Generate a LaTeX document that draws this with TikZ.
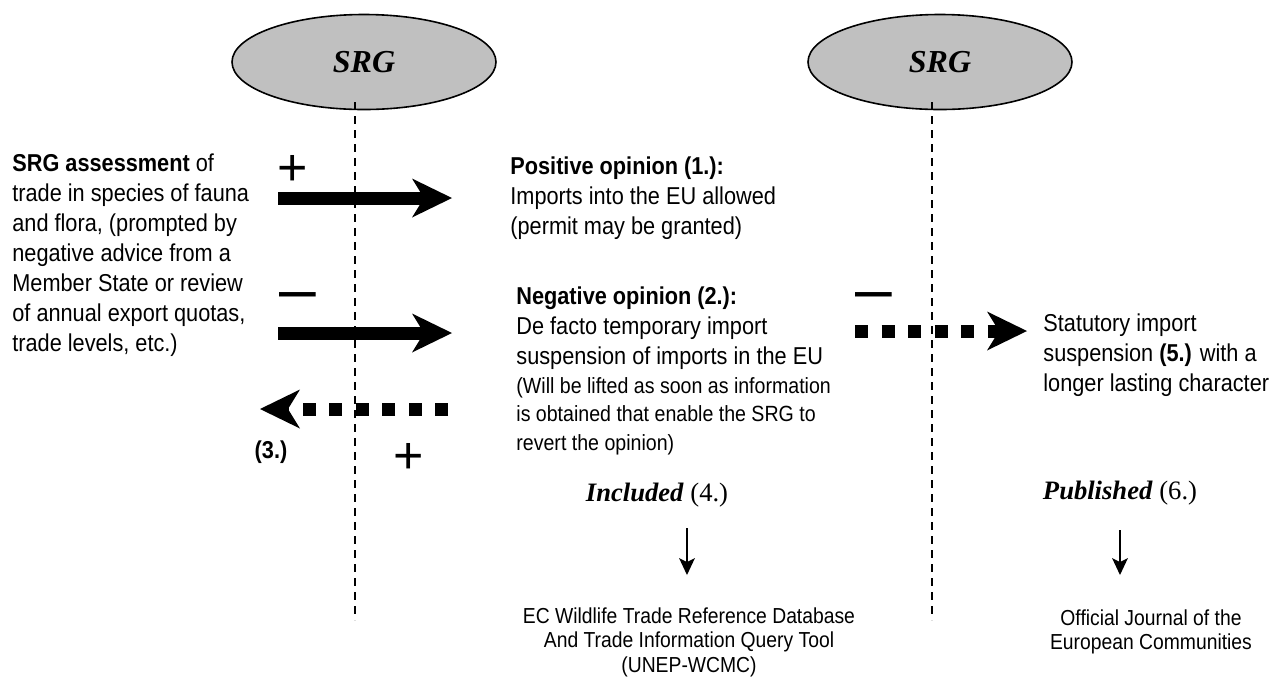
\documentclass[tikz,border=0pt]{standalone}
\usepackage{fontspec}
\setmainfont{Liberation Serif}
\newfontfamily\arialfont[FakeStretch=0.89]{Liberation Sans}
\newfontfamily\signfont{Liberation Sans}
\usepackage{xcolor}
\usetikzlibrary{shapes.geometric, arrows.meta}
\definecolor{srggray}{HTML}{C0C0C0}
\tikzset{
  srg/.style={ellipse, draw, line width=0.8pt, fill=srggray, minimum width=132pt,
              minimum height=47.5pt, inner sep=0pt, font=\fontsize{16}{18}\selectfont\bfseries\itshape},
  txt/.style={anchor=north west, inner sep=0pt, align=left, font=\arialfont\fontsize{12.2}{15}\selectfont},
  smalltxt/.style={txt, font=\arialfont\fontsize{11}{14.25}\selectfont},
  src/.style={anchor=north, inner sep=0pt, align=center, font=\arialfont\fontsize{10.85}{12.25}\selectfont},
  ttl/.style={inner sep=0pt, font=\fontsize{13.3}{15}\selectfont},
  sign/.style={anchor=base, inner sep=0pt, font=\signfont\fontsize{26}{26}\selectfont},
  minus/.style={sign, font=\signfont\fontsize{33}{33}\selectfont},
  vline/.style={line width=0.65pt, dash pattern=on 4pt off 3pt},
  big/.style={-{Stealth[length=20pt, width=19.5pt, inset=6pt, line width=0pt]}, line width=6.5pt},
  dotarr/.style={big, dash pattern=on 6.5pt off 6.75pt},
  pub/.style={-{Stealth[length=8.5pt, width=8pt, inset=2pt, line width=0pt]}, line width=0.65pt}
}
\begin{document}
\begin{tikzpicture}[x=0.5pt, y=-0.5pt]
  \useasboundingbox (0,0) rectangle (1287,682);
  % the two SRG meetings and their time lines
  \node[srg] (srgA) at (364,62) {SRG};
  \node[srg] (srgB) at (940,62) {SRG};
  \coordinate (topA) at (355,102); \coordinate (botA) at (355,620);
  \coordinate (topB) at (932,102); \coordinate (botB) at (932,620);
  \draw[vline] (topA) -- (botA);
  \draw[vline] (topB) -- (botB);
  % texts
  \node[txt] (assess) at (12,153) {\textbf{SRG assessment} of\\trade in species of fauna\\and flora, (prompted by\\negative advice from a\\Member State or review\\of annual export quotas,\\trade levels, etc.)};
  \node[txt] (pos) at (510,156) {\textbf{Positive opinion (1.):}\\Imports into the EU allowed\\(permit may be granted)};
  \node[txt] (neg) at (516,286) {\textbf{Negative opinion (2.):}\\De facto temporary import\\suspension of imports in the EU};
  \node[smalltxt] (negnote) at (516,377) {(Will be lifted as soon as information\\is obtained that enable the SRG to\\revert the opinion)};
  \node[txt] (stat) at (1043,313) {Statutory import\\suspension \textbf{(5.)} with a\\longer lasting character};
  \node[txt, anchor=center] (three) at (271,452) {\textbf{(3.)}};
  % + and - signs
  \node[sign] (plusA) at (293,185) {+};
  \node[sign] (plusB) at (409,473) {+};
  \node[minus] (minA) at (298,311) {\textendash};
  \node[minus] (minB) at (874,311) {\textendash};
  % opinion arrows
  \coordinate (a1s) at (278,198); \coordinate (a1e) at (452,198);
  \coordinate (a2s) at (278,333); \coordinate (a2e) at (452,333);
  \coordinate (a3s) at (448,409); \coordinate (a3e) at (260,409);
  \coordinate (a5s) at (855,331); \coordinate (a5e) at (1027,331);
  \draw[big] (a1s) -- (a1e);
  \draw[big] (a2s) -- (a2e);
  \draw[dotarr] (a3s) -- (a3e);
  \draw[dotarr] (a5s) -- (a5e);
  % where it ends up
  \node[ttl] (incl) at (657,495) {\textbf{\textit{Included}} (4.)};
  \node[ttl] (publ) at (1120,493) {\textbf{\textit{Published}} (6.)};
  \node[src] (wcmc) at (689,607) {EC Wildlife Trade Reference Database\\And Trade Information Query Tool\\(UNEP-WCMC)};
  \node[src] (oj) at (1151,609) {Official Journal of the\\European Communities};
  \coordinate (d4s) at (687,528); \coordinate (d4e) at (687,575);
  \coordinate (d6s) at (1120,530); \coordinate (d6e) at (1120,575);
  \draw[pub] (d4s) -- (d4e);
  \draw[pub] (d6s) -- (d6e);
\end{tikzpicture}
\end{document}
